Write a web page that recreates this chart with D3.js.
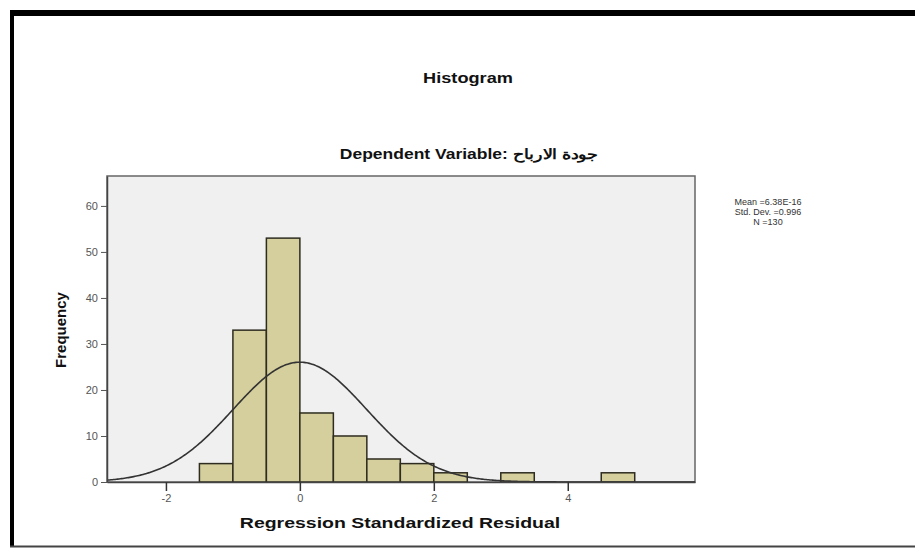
<!DOCTYPE html>
<html>
<head>
<meta charset="utf-8">
<script src="https://cdn.jsdelivr.net/npm/d3@7"></script>
<style>
  body { margin: 0; background: #fff; }
  svg { display: block; font-family: "Liberation Sans", Arial, sans-serif; }
</style>
</head>
<body>
<div id="chart"></div>
<script>
// histogram bins (lower edge) and counts
const binStarts = [-1.5, -1, -0.5, 0, 0.5, 1, 1.5, 2, 3, 4.5]
const counts = [4, 33, 53, 15, 10, 5, 4, 2, 2, 2]
const binWidth = 0.5

// summary shown at the right
const statMean = 6.38e-16
const statSd = 0.996
const statN = 130
const statLines = ['Mean =6.38E-16', 'Std. Dev. =0.996', 'N =130']

const xTicks = [-2, 0, 2, 4]
const yTicks = [0, 10, 20, 30, 40, 50, 60]
const xDomain = [-2.88, 5.9]
const yDomain = [0, 66.5]

const W = 915, H = 548

let svg = d3.select('#chart').append('svg')
    .attr('width', W)
    .attr('height', H)

svg.append('rect').attr('width', W).attr('height', H).attr('fill', '#fff')

// outer frame (thick top / left, thin bottom)
svg.append('line').attr('x1', 10).attr('x2', W).attr('y1', 13).attr('y2', 13)
    .attr('stroke', '#000').attr('stroke-width', 6)
svg.append('line').attr('x1', 12).attr('x2', 12).attr('y1', 10).attr('y2', 547)
    .attr('stroke', '#000').attr('stroke-width', 4)
svg.append('line').attr('x1', 10).attr('x2', W).attr('y1', 546.5).attr('y2', 546.5)
    .attr('stroke', '#444').attr('stroke-width', 2)

let x = d3.scaleLinear().domain(xDomain).range([107, 695])
let y = d3.scaleLinear().domain(yDomain).range([482, 176])

// titles
svg.append('text')
    .attr('transform', 'translate(468,83) scale(1.3,1)')
    .attr('text-anchor', 'middle')
    .attr('font-size', 14)
    .attr('font-weight', 'bold')
    .attr('fill', '#111')
    .text('Histogram')

svg.append('text')
    .attr('transform', 'translate(469,159) scale(1.25,1)')
    .attr('text-anchor', 'middle')
    .attr('font-size', 14)
    .attr('font-weight', 'bold')
    .attr('fill', '#111')
    .text('Dependent Variable: جودة الارباح')

// plot background
svg.append('rect')
    .attr('x', x(xDomain[0]))
    .attr('y', y(yDomain[1]))
    .attr('width', x(xDomain[1]) - x(xDomain[0]))
    .attr('height', y(0) - y(yDomain[1]))
    .attr('fill', '#f0f0f0')
    .attr('stroke', '#666')
    .attr('stroke-width', 1.5)

// bars
svg.append('g')
    .attr('class', 'bar')
    .selectAll('rect')
    .data(binStarts)
    .enter()
    .append('rect')
    .attr('x', d => x(d))
    .attr('y', (d, i) => y(counts[i]))
    .attr('width', d => x(d + binWidth) - x(d))
    .attr('height', (d, i) => y(0) - y(counts[i]))
    .attr('fill', '#d4cf9c')
    .attr('stroke', '#2e2c20')
    .attr('stroke-width', 1.5)

// normal curve from the mean / sd / n given in the legend
let curve = d3.range(xDomain[0], xDomain[1] + 0.001, 0.02).map(v => {
    let z = (v - statMean) / statSd
    return [v, statN * binWidth * Math.exp(-0.5 * z * z) / (statSd * Math.sqrt(2 * Math.PI))]
})

svg.append('path')
    .datum(curve)
    .attr('fill', 'none')
    .attr('stroke', '#333')
    .attr('stroke-width', 1.6)
    .attr('d', d3.line().x(d => x(d[0])).y(d => y(d[1])))

// axes
svg.append('g')
    .attr('class', 'y-axis')
    .attr('transform', 'translate(' + x(xDomain[0]) + ',0)')
    .call(d3.axisLeft(y).tickValues(yTicks).tickSize(6).tickSizeOuter(0).tickPadding(3))
    .call(g => g.select('.domain').attr('stroke', '#444').attr('stroke-width', 1.5))
    .call(g => g.selectAll('.tick line').attr('stroke', '#555'))
    .call(g => g.selectAll('.tick text').attr('font-size', 11).attr('fill', '#555')
        .attr('font-family', '"Liberation Sans", Arial, sans-serif'))

svg.append('g')
    .attr('class', 'x-axis')
    .attr('transform', 'translate(0,' + y(0) + ')')
    .call(d3.axisBottom(x).tickValues(xTicks).tickFormat(d => String(d))
        .tickSize(9).tickSizeOuter(0).tickPadding(3))
    .call(g => g.select('.domain').attr('stroke', '#444').attr('stroke-width', 1.5))
    .call(g => g.selectAll('.tick line').attr('stroke', '#333').attr('stroke-width', 1.5))
    .call(g => g.selectAll('.tick text').attr('font-size', 11).attr('fill', '#555')
        .attr('font-family', '"Liberation Sans", Arial, sans-serif'))

// axis labels
svg.append('text')
    .attr('transform', 'translate(400,528) scale(1.3,1)')
    .attr('text-anchor', 'middle')
    .attr('font-size', 15)
    .attr('font-weight', 'bold')
    .attr('fill', '#111')
    .text('Regression Standardized Residual')

svg.append('text')
    .attr('transform', 'translate(66,330) rotate(-90)')
    .attr('text-anchor', 'middle')
    .attr('font-size', 15)
    .attr('font-weight', 'bold')
    .attr('font-family', '"Liberation Sans Narrow", "Liberation Sans", Arial, sans-serif')
    .attr('fill', '#111')
    .text('Frequency')

// summary block
svg.append('g')
    .selectAll('text')
    .data(statLines)
    .enter()
    .append('text')
    .attr('x', 768)
    .attr('y', (d, i) => 205 + i * 10)
    .attr('text-anchor', 'middle')
    .attr('font-size', 9)
    .attr('fill', '#333')
    .text(d => d)
</script>
</body>
</html>
